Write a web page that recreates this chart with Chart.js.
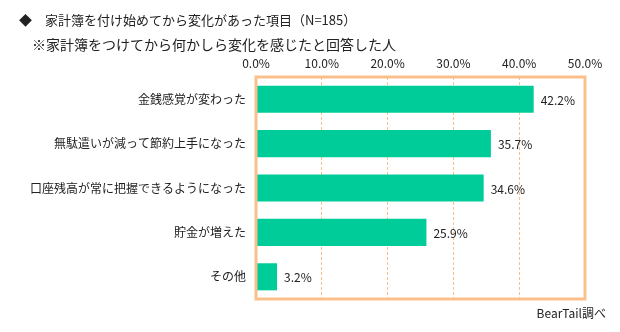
<!DOCTYPE html>
<html>
<head>
<meta charset="utf-8">
<script src="https://cdn.jsdelivr.net/npm/chart.js@4"></script>
<style>
  html, body { margin: 0; padding: 0; background: #fff; }
  #wrap { width: 620px; height: 332px; }
</style>
</head>
<body>
<div id="wrap"><canvas id="changeChart"></canvas></div>
<script>
// 家計簿を付け始めてから変化があった項目
const categories = ['金銭感覚が変わった', '無駄遣いが減って節約上手になった', '口座残高が常に把握できるようになった', '貯金が増えた', 'その他'];
const values = [42.2, 35.7, 34.6, 25.9, 3.2];
const tickValues = [0, 10, 20, 30, 40, 50];

const titleText = '◆\u3000家計簿を付け始めてから変化があった項目（N=185）';
const subtitleText = '※家計簿をつけてから何かしら変化を感じたと回答した人';
const sourceText = 'BearTail調べ';

const fontFamily = '"Noto Sans CJK JP", "Noto Sans", sans-serif';
const orange = '#FAC08C';

// タイトル・枠線・数値ラベル
const decorPlugin = {
  id: 'decor',
  afterDatasetsDraw(chart) {
    const ctx = chart.ctx;
    const area = chart.chartArea;
    ctx.save();
    ctx.strokeStyle = orange;
    ctx.lineWidth = 3;
    ctx.strokeRect(area.left, area.top, area.right - area.left, area.bottom - area.top);

    ctx.fillStyle = '#222';
    ctx.font = '12px ' + fontFamily;
    ctx.textBaseline = 'middle';
    ctx.textAlign = 'left';
    chart.getDatasetMeta(0).data.forEach((bar, i) => {
      ctx.fillText(values[i].toFixed(1) + '%', bar.x + 7, bar.y + 1);
    });

    ctx.font = '13px ' + fontFamily;
    ctx.fillText(titleText, 19, 20);
    ctx.font = '14px ' + fontFamily;
    ctx.fillText(subtitleText, 32, 45);
    ctx.font = '12px ' + fontFamily;
    ctx.textAlign = 'right';
    ctx.fillText(sourceText, 606, 313);
    ctx.restore();
  }
};

const ctx = document.getElementById('changeChart').getContext('2d');
const changeChart = new Chart(ctx, {
  type: 'bar',
  data: {
    labels: categories,
    datasets: [{
      data: values,
      backgroundColor: '#00CC99',
      borderWidth: 0,
      barPercentage: 0.61,
      categoryPercentage: 1
    }]
  },
  options: {
    indexAxis: 'y',
    responsive: true,
    maintainAspectRatio: false,
    animation: false,
    layout: { padding: { top: 50, right: 35, bottom: 33, left: 0 } },
    plugins: {
      legend: { display: false },
      tooltip: { enabled: false }
    },
    scales: {
      x: {
        position: 'top',
        min: 0,
        max: 50,
        afterBuildTicks(scale) {
          scale.ticks = tickValues.map(v => ({ value: v }));
        },
        afterFit(scale) { scale.height = 27; },
        ticks: {
          color: '#222',
          font: { family: fontFamily, size: 12 },
          padding: 6,
          callback: v => v.toFixed(1) + '%'
        },
        grid: { color: orange, lineWidth: 1, drawTicks: false },
        border: { display: false, dash: [3, 2] }
      },
      y: {
        afterFit(scale) { scale.width = 256; },
        ticks: {
          color: '#222',
          font: { family: fontFamily, size: 12 },
          padding: 10
        },
        grid: { display: false, drawTicks: false },
        border: { display: false }
      }
    }
  },
  plugins: [decorPlugin]
});
</script>
</body>
</html>
